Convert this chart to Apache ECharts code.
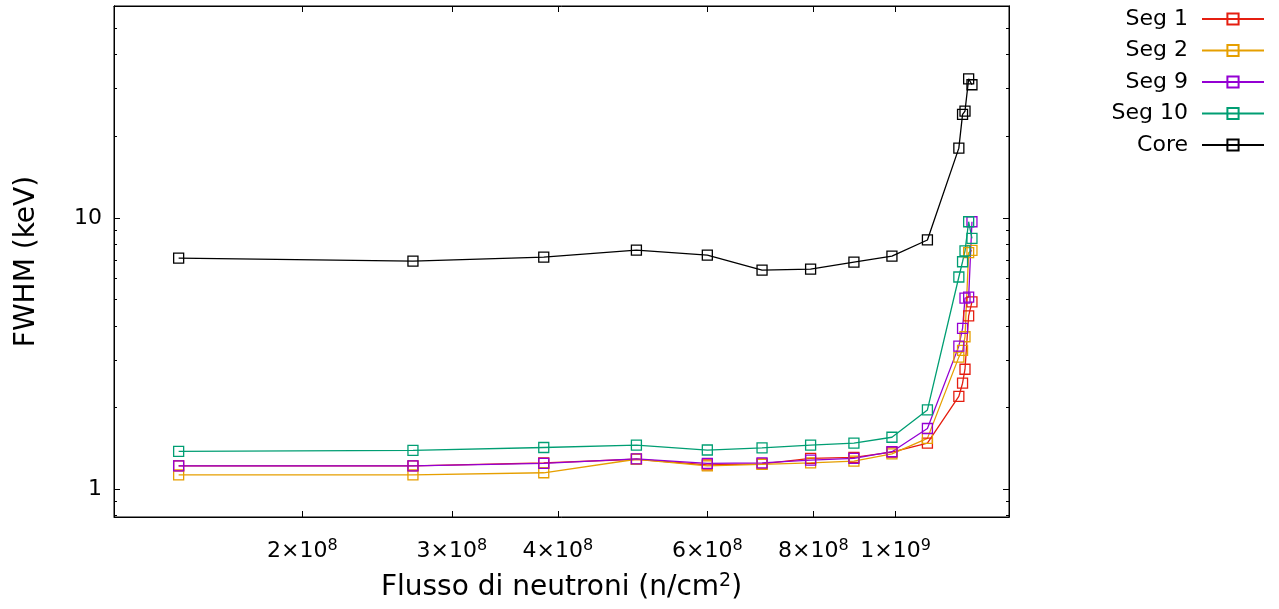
<!DOCTYPE html>
<html>
<head>
<meta charset="utf-8">
<script src="https://cdn.jsdelivr.net/npm/echarts@6/dist/echarts.min.js"></script>
<style>
  html, body { margin: 0; padding: 0; background: #fff; }
  #chart { width: 1279px; height: 609px; }
</style>
</head>
<body>
<div id="chart"></div>
<script>
// 数据：中子通量与各段 FWHM
var flux  = [1.43e8, 2.70e8, 3.85e8, 4.95e8, 6.0e8, 6.96e8, 7.94e8, 8.93e8, 9.9e8, 1.09e9,
             1.187e9, 1.199e9, 1.207e9, 1.219e9, 1.23e9];
var seg1  = [1.22, 1.22, 1.25, 1.29, 1.23, 1.24, 1.30, 1.31, 1.37, 1.48, 2.20, 2.46, 2.77, 4.36, 4.91];
var seg2  = [1.13, 1.13, 1.15, 1.29, 1.22, 1.235, 1.25, 1.27, 1.35, 1.54, 3.07, 3.25, 3.65, 7.45, 7.6];
var seg9  = [1.22, 1.22, 1.245, 1.295, 1.245, 1.25, 1.28, 1.30, 1.375, 1.675, 3.37, 3.92, 5.07, 5.11, 9.69];
var seg10 = [1.38, 1.39, 1.425, 1.455, 1.395, 1.42, 1.455, 1.48, 1.555, 1.96, 6.06, 6.90, 7.57, 9.69, 8.42];
var core  = [7.12, 6.94, 7.18, 7.62, 7.30, 6.43, 6.48, 6.88, 7.24, 8.30, 18.1, 24.1, 24.8, 32.6, 31.0];

var seriesNames = ['Seg 1', 'Seg 2', 'Seg 9', 'Seg 10', 'Core'];
var seriesData  = [seg1, seg2, seg9, seg10, core];
var colors      = ['#e51e10', '#e69f00', '#9400d3', '#009e73', '#000000'];

var xTicks     = [2e8, 3e8, 4e8, 6e8, 8e8, 1e9];
var yMajor     = [1, 10];
var yMinor     = [0.8, 0.9, 2, 3, 4, 5, 6, 7, 8, 9, 20, 30, 40, 50];

var FONT = 'DejaVu Sans';
var xMin = 1.2e8, xMax = 1.36e9, yMin = 0.79, yMax = 60.5;

function sciLabel(v) {
    var e = Math.floor(Math.log10(v) + 1e-9);
    var m = Math.round(v / Math.pow(10, e));
    return '{b|' + m + '×10}{s|' + e + '}';
}

var richSup = {
    b: { fontSize: 22, fontFamily: FONT, color: '#000' },
    s: { fontSize: 16, fontFamily: FONT, color: '#000', padding: [0, 0, 10, 0] }
};

function xAxisOf(pos, showLabel) {
    return {
        type: 'log', logBase: 10, position: pos, min: xMin, max: xMax,
        axisLine: { show: true, onZero: false, lineStyle: { color: '#000', width: 1 } },
        axisTick: { show: true, inside: true, length: 6, customValues: xTicks, lineStyle: { color: '#000' } },
        axisLabel: { show: showLabel, customValues: xTicks, margin: 21, formatter: sciLabel, rich: richSup },
        splitLine: { show: false },
        minorTick: { show: false },
        name: showLabel ? '{b|Flusso di neutroni (n/cm}{s|2}{b|)}' : '',
        nameLocation: 'middle', nameGap: 55,
        nameTextStyle: { rich: {
            b: { fontSize: 28, fontFamily: FONT, color: '#000' },
            s: { fontSize: 19, fontFamily: FONT, color: '#000', padding: [0, 0, 13, 0] }
        } }
    };
}

function yAxisOf(pos, ticks, len, showLabel) {
    return {
        type: 'log', logBase: 10, position: pos, min: yMin, max: yMax,
        axisLine: { show: true, onZero: false, lineStyle: { color: '#000', width: 1 } },
        axisTick: { show: true, inside: true, length: len, customValues: ticks, lineStyle: { color: '#000' } },
        axisLabel: { show: showLabel, customValues: yMajor, margin: 12,
                     fontSize: 22, fontFamily: FONT, color: '#000' },
        splitLine: { show: false },
        name: showLabel ? 'FWHM (keV)' : '',
        nameLocation: 'middle', nameGap: 73, nameRotate: 90,
        nameTextStyle: { fontSize: 28, fontFamily: FONT, color: '#000' }
    };
}

var chart = echarts.init(document.getElementById('chart'));
chart.setOption({
    animation: false,
    backgroundColor: '#fff',
    grid: { left: 114, right: 270, top: 6, bottom: 92, show: true, borderColor: '#000', borderWidth: 1,
            outerBoundsMode: 'none' },
    legend: {
        orient: 'vertical', right: 14, top: 8, align: 'right', padding: 0,
        itemWidth: 62, itemHeight: 14, itemGap: 9.5,
        selectedMode: false,
        textStyle: { fontSize: 22, fontFamily: FONT, color: '#000', padding: [0, 9, 0, 0] },
        data: seriesNames
    },
    xAxis: [xAxisOf('bottom', true), xAxisOf('top', false)],
    yAxis: [
        yAxisOf('left', yMajor, 6, true),
        yAxisOf('left', yMinor, 3, false),
        yAxisOf('right', yMajor, 6, false),
        yAxisOf('right', yMinor, 3, false)
    ],
    series: seriesNames.map(function (name, k) {
        return {
            name: name, type: 'line',
            xAxisIndex: 0, yAxisIndex: 0,
            symbol: 'rect', symbolSize: 10,
            lineStyle: { color: colors[k], width: 1.3 },
            itemStyle: { color: 'rgba(0,0,0,0)', borderColor: colors[k], borderWidth: 1.3 },
            data: flux.map(function (x, i) { return [x, seriesData[k][i]]; })
        };
    })
});
</script>
</body>
</html>
